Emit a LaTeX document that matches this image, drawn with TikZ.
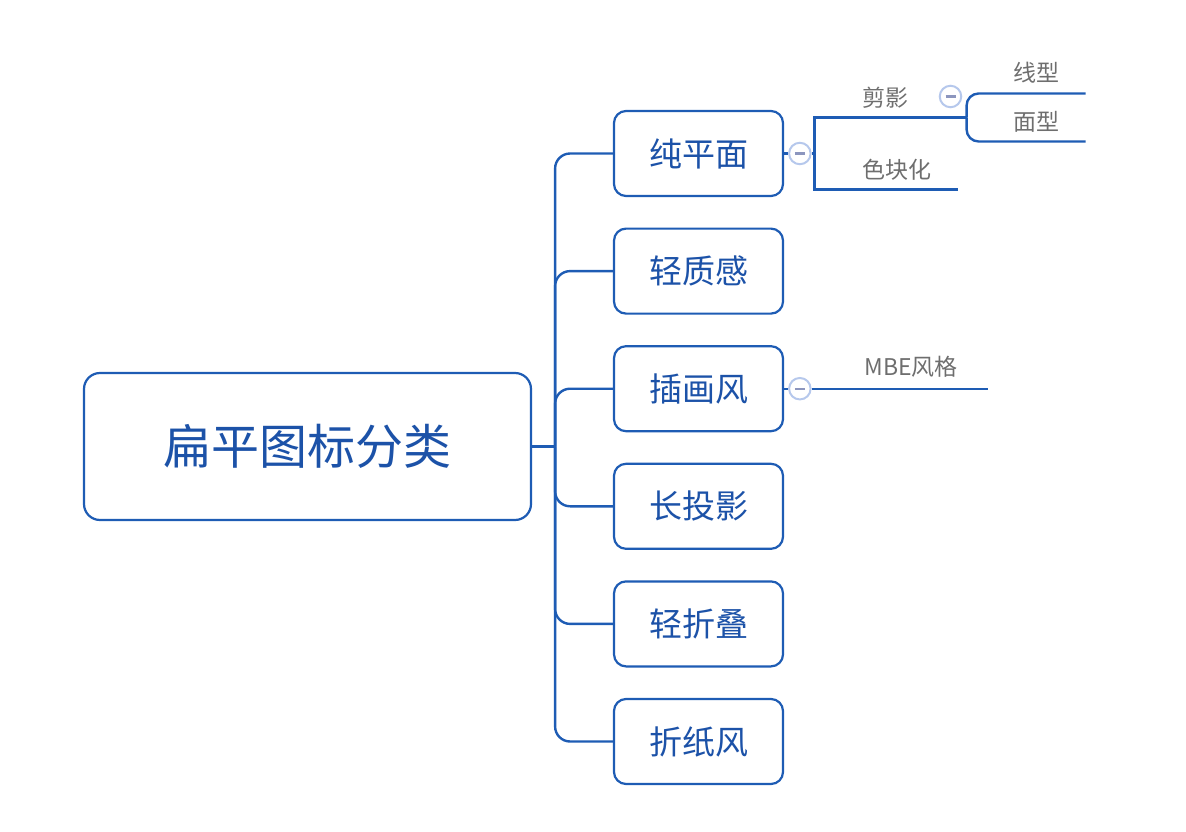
\documentclass[tikz,border=0pt]{standalone}
\usepackage{fontspec}
\newfontfamily\cjk{Noto Sans CJK SC}
\usepackage{xcolor}
\usepackage{tikz}
\usetikzlibrary{positioning, calc}
\definecolor{primary}{RGB}{30, 92, 180}
\definecolor{primarytext}{RGB}{28, 82, 168}
\definecolor{labelgrey}{RGB}{110, 110, 110}
\definecolor{btnring}{RGB}{182, 200, 236}
\definecolor{btnmark}{RGB}{140, 150, 190}
\tikzset{
  baseblock/.style={
    rectangle, rounded corners=12pt, line width=2.2pt,
    draw=primary, fill=white, text=primarytext,
    align=center, inner sep=0pt
  },
  rootblock/.style={baseblock, rounded corners=16pt,
    minimum width=447pt, minimum height=147pt, font=\cjk\fontsize{48}{52}\selectfont},
  childblock/.style={baseblock,
    minimum width=169pt, minimum height=85pt, font=\cjk\fontsize{33}{36}\selectfont},
  sublabel/.style={font=\cjk\fontsize{23}{26}\selectfont, text=labelgrey, inner sep=0pt},
  branchline/.style={draw=primary, line width=2.4pt},
  collapsebtn/.style={
    circle, draw=btnring, fill=white, line width=2pt,
    minimum size=21.5pt, inner sep=0pt
  }
}
\newcommand{\collapsemark}{\textcolor{btnmark}{\rule{10pt}{2.2pt}}}

\begin{document}
\begin{tikzpicture}[x=1pt, y=-1pt]
  \useasboundingbox (0,0) rectangle (1186,832);

  % Root topic
  \node[rootblock] (root) at (307.5,446.5) {扁平图标分类};

  % Main branches
  \node[childblock] (flat) at (698.5,153.5) {纯平面};
  \node[childblock, below=30.4pt of flat] (light) {轻质感};
  \node[childblock, below=30.4pt of light] (illus) {插画风};
  \node[childblock, below=30.4pt of illus] (longshadow) {长投影};
  \node[childblock, below=30.4pt of longshadow] (fold) {轻折叠};
  \node[childblock, below=30.4pt of fold] (origami) {折纸风};

  % Trunk connectors
  \coordinate (trunk) at ($(root.east)+(23,0)$);
  \draw[branchline] (root.east) -- (trunk);
  \foreach \child in {flat, light, illus, longshadow, fold, origami}
    \draw[branchline, rounded corners=15pt] (trunk) |- (\child.west);

  % Sub-topics of flat
  \node[collapsebtn, right=4pt of flat] (flat_btn) {\collapsemark};
  \draw[branchline] (flat.east) -- (flat_btn.west);
  \coordinate (flat_fork) at ($(flat_btn.east)+(3,0)$);
  \draw[branchline] (flat_btn.east) -- (flat_fork);
  \coordinate (silhouette_end) at ($(flat_fork)+(152,-36)$);
  \coordinate (colorblock_end) at ($(flat_fork)+(143,36)$);
  \draw[branchline] (flat_fork) |- (silhouette_end);
  \draw[branchline] (flat_fork) |- (colorblock_end);
  \node[sublabel] (silhouette) at (885,98) {剪影};
  \node[sublabel] (colorblock) at (897,170) {色块化};

  % Sub-topics of silhouette
  \node[collapsebtn] (silhouette_btn) at (950.5,96.5) {\collapsemark};
  \coordinate (line_end) at ($(silhouette_end)+(119,-24)$);
  \coordinate (face_end) at ($(silhouette_end)+(119,24)$);
  \draw[branchline, rounded corners=12pt] (silhouette_end) |- (line_end);
  \draw[branchline, rounded corners=12pt] (silhouette_end) |- (face_end);
  \node[sublabel] (linetype) at (1036,73) {线型};
  \node[sublabel] (facetype) at (1036,122) {面型};

  % Sub-topic of illus
  \node[collapsebtn, right=4pt of illus] (illus_btn) {\collapsemark};
  \draw[branchline] (illus.east) -- (illus_btn.west);
  \coordinate (mbe_end) at ($(illus_btn.east)+(176,0)$);
  \draw[branchline] (illus_btn.east) -- (mbe_end);
  \node[sublabel] (mbe) at (911,367) {MBE风格};

\end{tikzpicture}
\end{document}
